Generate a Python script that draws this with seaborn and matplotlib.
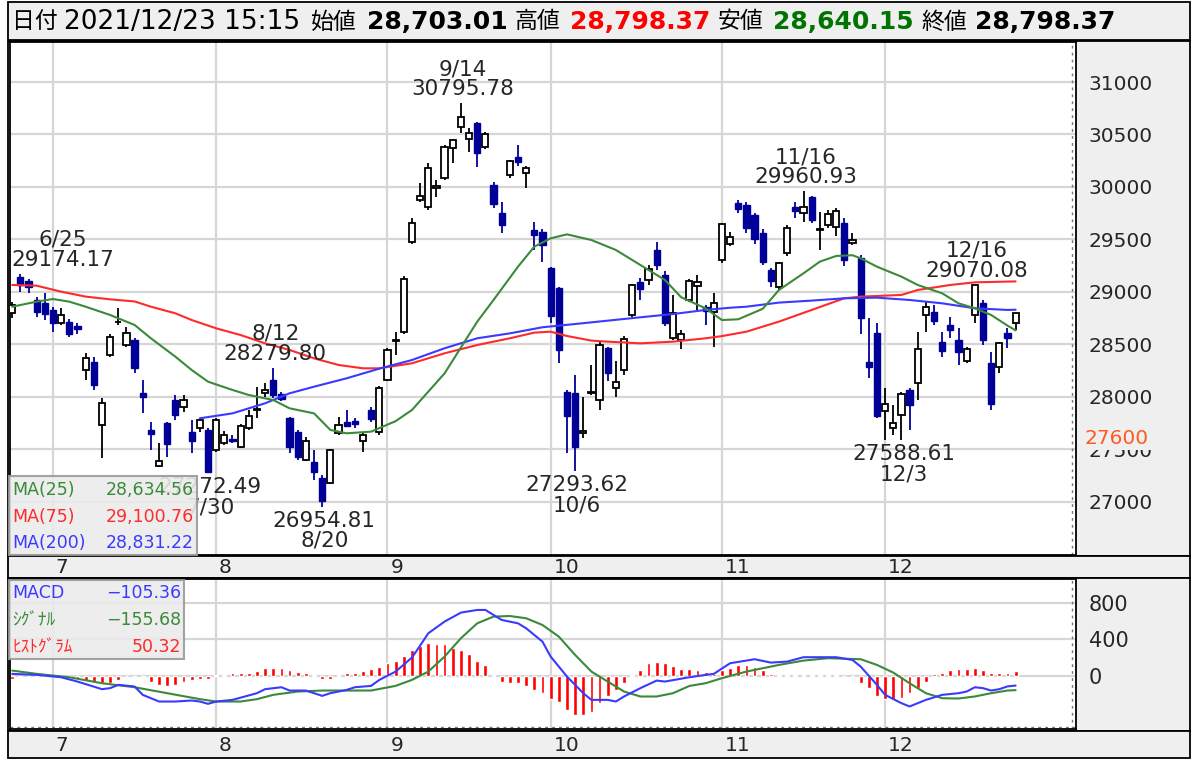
import numpy as np
import matplotlib
matplotlib.use("Agg")
import matplotlib.pyplot as plt
import seaborn as sns
from matplotlib.patches import Rectangle

# trading days shown (6/24 .. 12/23)
dates = ["6/24", "6/25", "6/28", "6/29", "6/30",
         "7/1", "7/2", "7/5", "7/6", "7/7", "7/8", "7/9", "7/12", "7/13", "7/14", "7/15", "7/16",
         "7/19", "7/20", "7/21", "7/26", "7/27", "7/28", "7/29", "7/30",
         "8/2", "8/3", "8/4", "8/5", "8/6", "8/10", "8/11", "8/12", "8/13", "8/16", "8/17", "8/18",
         "8/19", "8/20", "8/23", "8/24", "8/25", "8/26", "8/27", "8/30", "8/31",
         "9/1", "9/2", "9/3", "9/6", "9/7", "9/8", "9/9", "9/10", "9/13", "9/14", "9/15", "9/16",
         "9/17", "9/21", "9/22", "9/24", "9/27", "9/28", "9/29", "9/30",
         "10/1", "10/4", "10/5", "10/6", "10/7", "10/8", "10/11", "10/12", "10/13", "10/14", "10/15",
         "10/18", "10/19", "10/20", "10/21", "10/22", "10/25", "10/26", "10/27", "10/28", "10/29",
         "11/1", "11/2", "11/4", "11/5", "11/8", "11/9", "11/10", "11/11", "11/12", "11/15", "11/16",
         "11/17", "11/18", "11/19", "11/22", "11/24", "11/25", "11/26", "11/29", "11/30",
         "12/1", "12/2", "12/3", "12/6", "12/7", "12/8", "12/9", "12/10", "12/13", "12/14", "12/15",
         "12/16", "12/17", "12/20", "12/21", "12/22", "12/23"]

opens = [28797, 29146, 29108, 28924, 28892, 28829, 28702, 28717, 28676, 28257,
         28336, 27733, 28400, 28710, 28495, 28543, 28040, 27690, 27345, 27749,
         27971, 27908, 27670, 27702, 27686, 27495, 27559, 27597, 27527, 27702,
         27880, 28035, 28162, 28029, 27797, 27670, 27400, 27384, 27225, 27178,
         27654, 27765, 27775, 27584, 27876, 27670, 28162, 28530, 28622, 29480,
         29880, 29813, 29990, 30083, 30368, 30575, 30454, 30607, 30385, 30019,
         29749, 30115, 30283, 30130, 29591, 29575, 29225, 29035, 28051, 28035,
         27660, 28035, 27971, 28464, 28083, 28257, 28781, 29098, 29114, 29400,
         29162, 28559, 28543, 28924, 29060, 28860, 28813, 29305, 29457, 29845,
         29829, 29734, 29559, 29210, 29051, 29368, 29813, 29749, 29908, 29590,
         29638, 29622, 29654, 29464, 29321, 28330, 28607, 27870, 27708, 27829,
         28067, 28130, 28781, 28813, 28527, 28686, 28543, 28346, 28781, 28892,
         28321, 28289, 28606, 28703.01]
highs = [28908, 29174.17, 29125, 28950, 28987, 28860, 28844, 28740, 28700, 28416,
         28380, 27987, 28600, 28844, 28670, 28560, 28162, 27765, 27559, 27760,
         28019, 28019, 27781, 27800, 27700, 27800, 27680, 27640, 27740, 27876,
         28098, 28130, 28279.80, 28050, 27810, 27690, 27620, 27495, 27260, 27500,
         27813, 27876, 27800, 27660, 27900, 28100, 28470, 28622, 29150, 29700,
         30035, 30225, 30067, 30400, 30460, 30795.78, 30559, 30622, 30520, 30050,
         29860, 30260, 30400, 30200, 29670, 29600, 29240, 29050, 28070, 28210,
         28003, 28305, 28530, 28480, 28340, 28580, 29080, 29130, 29260, 29480,
         29200, 28971, 28640, 29120, 29162, 28880, 28990, 29660, 29570, 29880,
         29860, 29750, 29600, 29230, 29290, 29640, 29860, 29960.93, 29910, 29765,
         29780, 29800, 29700, 29560, 29350, 28750, 28700, 28083, 27924, 28050,
         28083, 28622, 28900, 28880, 28622, 28765, 28654, 28480, 29070.08, 28920,
         28432, 28527, 28654, 28798.37]
lows = [28749, 29003, 28987, 28760, 28733, 28622, 28686, 28570, 28600, 28162,
        28070, 27419, 28380, 28686, 28479, 28225, 27845, 27495, 27335, 27430,
        27781, 27860, 27464, 27670, 27272.49, 27480, 27540, 27560, 27510, 27690,
        27797, 28003, 27987, 27960, 27470, 27400, 27390, 27210, 26954.81, 27170,
        27640, 27720, 27700, 27480, 27760, 27640, 28150, 28400, 28600, 29460,
        29860, 29780, 29908, 30070, 30225, 30512, 30337, 30194, 30360, 29800,
        29559, 30083, 30200, 29988, 29400, 29290, 28700, 28320, 27463, 27293.62,
        27606, 28020, 27876, 28150, 28000, 28210, 28760, 28924, 29067, 29210,
        28680, 28540, 28460, 28900, 28830, 28690, 28480, 29280, 29440, 29750,
        29560, 29460, 29260, 29050, 29020, 29340, 29700, 29670, 29660, 29400,
        29610, 29530, 29250, 29450, 28600, 28178, 27800, 27591, 27640, 27588.61,
        27686, 27971, 28622, 28690, 28384, 28560, 28305, 28320, 28700, 28495,
        27876, 28225, 28464, 28640.15]
closes = [28875, 29066, 29048, 28812, 28791, 28707, 28783, 28598, 28643, 28367,
          28118, 27940, 28569, 28718, 28608, 28279, 28003, 27652, 27388, 27548,
          27833, 27970, 27581, 27782, 27283, 27781, 27641, 27584, 27728, 27820,
          27888, 28070, 28015, 27977, 27523, 27424, 27585, 27281, 27013, 27494,
          27732, 27724, 27742, 27641, 27789, 28089, 28451, 28543, 29128, 29660,
          29916, 30181, 30008, 30381, 30447, 30670, 30511, 30323, 30500, 29839,
          29639, 30248, 30240, 30183, 29544, 29452, 28771, 28444, 27822, 27528,
          27678, 28048, 28498, 28230, 28140, 28550, 29068, 29025, 29215, 29255,
          28708, 28804, 28600, 29106, 29098, 28820, 28892, 29647, 29520, 29794,
          29611, 29507, 29285, 29106, 29277, 29609, 29776, 29808, 29688, 29598,
          29745, 29774, 29302, 29499, 28751, 28283, 27821, 27935, 27753, 28029,
          27927, 28455, 28860, 28725, 28437, 28640, 28432, 28459, 29066, 28545,
          27937, 28517, 28562, 28798.37]

# moving averages (trading-day number, value)
ma25_day = [0, 3, 5, 7, 9, 12, 15, 17, 20, 22, 24, 27, 29, 32, 34, 37, 39, 41, 44, 47, 49,
            53, 57, 59, 62, 64, 66, 68, 71, 74, 77, 80, 82, 85, 87, 89, 92, 94, 97, 99, 101,
            103, 104, 106, 109, 111, 114, 116, 118, 120, 122, 123]
ma25_val = [28860, 28908, 28933, 28908, 28860, 28781, 28686, 28559, 28384, 28257, 28146,
            28067, 28019, 27971, 27892, 27844, 27686, 27654, 27670, 27770, 27876, 28225,
            28717, 28924, 29241, 29432, 29511, 29549, 29495, 29400, 29257, 29115, 28950,
            28844, 28733, 28740, 28840, 29020, 29178, 29289, 29343, 29350, 29321, 29241,
            29146, 29067, 28987, 28892, 28845, 28781, 28680, 28634.56]
ma75_day = [0, 3, 6, 9, 12, 15, 17, 20, 22, 25, 28, 31, 34, 37, 40, 43, 45, 49, 53, 57, 61,
            64, 66, 68, 71, 73, 77, 81, 85, 87, 90, 94, 98, 102, 104, 106, 109, 111, 115,
            118, 122, 123]
ma75_val = [29067, 29060, 29003, 28956, 28930, 28910, 28860, 28797, 28733, 28654, 28590,
            28511, 28448, 28368, 28305, 28273, 28273, 28321, 28416, 28495, 28559, 28613,
            28622, 28581, 28537, 28527, 28511, 28527, 28559, 28580, 28622, 28718, 28829,
            28940, 28956, 28962, 28972, 29019, 29067, 29092, 29099, 29100.76]
ma200_day = [23, 27, 31, 34, 37, 41, 45, 49, 53, 57, 61, 65, 69, 73, 77, 81, 85, 88, 90, 94,
             98, 102, 106, 110, 114, 118, 122, 123]
ma200_val = [27797, 27844, 27940, 28035, 28098, 28178, 28270, 28352, 28464, 28559, 28606,
             28664, 28695, 28727, 28759, 28790, 28829, 28850, 28860, 28899, 28918, 28940,
             28946, 28924, 28892, 28845, 28829, 28831.22]

# MACD panel
macd_day = [0, 3, 6, 8, 11, 12, 13, 15, 16, 18, 20, 22, 23, 24, 25, 27, 30, 31, 33, 34, 36,
            38, 39, 41, 42, 44, 45, 47, 49, 50, 51, 53, 55, 57, 58, 60, 62, 63, 65, 66, 68,
            70, 71, 73, 74, 75, 77, 79, 80, 83, 85, 86, 88, 91, 93, 95, 97, 101, 103, 104,
            106, 107, 109, 110, 112, 114, 116, 117, 118, 119, 120, 121, 122, 123]
macd_val = [22, 11, -15, -62, -145, -134, -98, -116, -207, -280, -280, -269, -280, -305,
            -280, -262, -189, -145, -124, -160, -160, -218, -189, -153, -124, -109, -44, 47,
            200, 330, 465, 593, 691, 720, 720, 611, 574, 520, 374, 211, -7, -189, -262, -262,
            -280, -225, -134, -51, -62, -15, 11, 22, 138, 182, 145, 156, 204, 204, 174, 102,
            -98, -207, -298, -334, -262, -207, -189, -171, -124, -134, -160, -145, -115,
            -105.36]
signal_day = [0, 3, 7, 11, 15, 19, 23, 25, 28, 30, 32, 35, 38, 41, 44, 47, 49, 51, 53, 55,
              57, 59, 61, 63, 65, 67, 69, 71, 73, 75, 77, 79, 81, 83, 85, 87, 90, 94, 97, 100,
              104, 106, 108, 110, 112, 114, 116, 118, 120, 122, 123]
signal_val = [58, 22, -15, -80, -124, -189, -254, -280, -280, -254, -207, -171, -160, -160,
              -160, -109, -44, 47, 211, 411, 574, 647, 654, 629, 556, 429, 229, 47, -62, -171,
              -225, -225, -189, -110, -80, -25, 47, 120, 167, 193, 182, 120, 36, -80, -189,
              -244, -247, -225, -189, -160, -155.68]
hist_val = [-35, -10, 0, 5, 5, 0, -15, -25, -36, -51,
            -62, -80, -73, -44, -5, -10, -10, -65, -98, -109,
            -98, -62, -44, -33, -33, 5, 10, 29, 29, 36,
            55, 91, 91, 84, 65, 47, 29, 5, -30, -30,
            10, 30, 36, 58, 76, 102, 138, 164, 218, 284,
            327, 364, 345, 345, 302, 284, 236, 164, 120, 11,
            -62, -80, -80, -109, -153, -182, -254, -280, -371, -425,
            -425, -389, -298, -225, -153, -80, 5, 65, 138, 156,
            138, 109, 73, 75, 65, 47, 22, 65, 91, 120,
            120, 102, 65, 22, 11, 15, 15, 15, 15, 15,
            15, 15, 0, -7, -80, -134, -225, -254, -262, -244,
            -189, -134, -62, 22, 29, 65, 76, 76, 91, 65,
            36, 29, 29, 50.32]

# labelled highs / lows: (date, value, above?)
peaks = [("6/25", "29174.17", True), ("8/12", "28279.80", True), ("9/14", "30795.78", True),
         ("11/16", "29960.93", True), ("12/16", "29070.08", True),
         ("7/30", "27272.49", False), ("8/20", "26954.81", False), ("10/6", "27293.62", False),
         ("12/3", "27588.61", False)]

sns.set_style("white")
plt.rcParams['font.family'] = ['DejaVu Sans', 'Noto Sans CJK JP']

W, H = 1200, 760
fig = plt.figure(figsize=(12, 7.6), dpi=100)
GRAY = '#efefef'


def box(x0, y0, x1, y1, fc=GRAY, ec='black', lw=1.3, z=-1, alpha=1.0):
    fig.add_artist(Rectangle((x0 / W, 1 - y1 / H), (x1 - x0) / W, (y1 - y0) / H,
                             transform=fig.transFigure, fc=fc, ec=ec, lw=lw,
                             zorder=z, alpha=alpha))


box(8, 2, 1190, 40)
box(8, 41, 1190, 556)
box(8, 556, 1190, 578)
box(8, 578, 1190, 731)
box(8, 731, 1190, 758)

n = len(dates)
xs = np.arange(n)
o = np.array(opens)
c = np.array(closes)
hi = np.array(highs)
lo = np.array(lows)
up = c >= o

months = ["7", "8", "9", "10", "11", "12"]
month_pos = [next(i for i, d in enumerate(dates) if d.split("/")[0] == m) for m in months]

ax = fig.add_axes([10 / W, 1 - 555 / H, 1066 / W, 513 / H])
ax2 = fig.add_axes([10 / W, 1 - 729 / H, 1066 / W, 150 / H])

# candles
ax.vlines(xs[up], lo[up], hi[up], color='black', lw=1.3, zorder=2)
ax.vlines(xs[~up], lo[~up], hi[~up], color='#000099', lw=1.3, zorder=2)
body = np.maximum(np.abs(c - o), 8)
ax.bar(xs[up], body[up], bottom=np.minimum(o, c)[up], width=0.76, color='white',
       edgecolor='black', linewidth=1.3, zorder=3)
ax.bar(xs[~up], body[~up], bottom=np.minimum(o, c)[~up], width=0.76, color='#000099',
       edgecolor='#000099', linewidth=1.0, zorder=3)

sns.lineplot(x=ma75_day, y=ma75_val, ax=ax, color='#ff2a2a', lw=1.5, zorder=4)
sns.lineplot(x=ma200_day, y=ma200_val, ax=ax, color='#3a3aff', lw=1.5, zorder=4)
sns.lineplot(x=ma25_day, y=ma25_val, ax=ax, color='#3a8a3a', lw=1.5, zorder=4)

for d, v, above in peaks:
    i = dates.index(d)
    y = hi[i] if above else lo[i]
    txt = f"{d}\n{v}" if above else f"{v}\n{d}"
    dx = 42 if i == 1 else 2
    ax.annotate(txt, xy=(i, y), xytext=(dx, 24 if above else -24), textcoords='offset pixels',
                ha='center', va='center', fontsize=15.5, linespacing=1.0, zorder=5)

ax.set_xlim(-0.27, 130.4)
ax.set_ylim(26495, 31381)
ax.set_yticks(range(27000, 31001, 500))
ax.set_xticks(month_pos)
ax.set_xticklabels([])
ax.yaxis.tick_right()
ax.tick_params(axis='y', length=0, pad=9, labelsize=14.5)
ax.tick_params(axis='x', length=0)
ax.grid(True, color='#d6d6d6', lw=1.6)
ax.set_axisbelow(True)
ax.axvline(129.9, color='#777777', ls=(0, (2, 3)), lw=1)
ax.set_xlabel('')
ax.set_ylabel('')
ax.annotate('27600', xy=(1, 27600), xycoords=('axes fraction', 'data'), xytext=(9, 0),
            textcoords='offset pixels', ha='left', va='center', color='#ff5a1f',
            fontsize=14.5, annotation_clip=False,
            bbox=dict(fc=GRAY, ec='none', pad=1.0))

# MACD
ax2.bar(xs, hist_val, width=0.46, color='#ff0000', zorder=2)
sns.lineplot(x=signal_day, y=signal_val, ax=ax2, color='#3a8a3a', lw=1.5, zorder=3)
sns.lineplot(x=macd_day, y=macd_val, ax=ax2, color='#3a3aff', lw=1.5, zorder=3)
ax2.set_xlim(-0.27, 130.4)
ax2.set_ylim(-580, 1058)
ax2.set_yticks([0, 400, 800])
ax2.set_xticks(month_pos)
ax2.set_xticklabels([])
ax2.yaxis.tick_right()
ax2.tick_params(axis='y', length=0, pad=9, labelsize=15)
ax2.tick_params(axis='x', length=0)
ax2.grid(True, color='#d6d6d6', lw=1.6)
ax2.set_axisbelow(True)
ax2.axvline(129.9, color='#777777', ls=(0, (2, 3)), lw=1)
ax2.axhline(-562, color='#777777', ls=(0, (2, 3)), lw=1)
ax2.set_xlabel('')
ax2.set_ylabel('')

for a in (ax, ax2):
    for s in a.spines.values():
        s.set_color('black')
        s.set_linewidth(1.3)

for m, p in zip(months, month_pos):
    ax.text(p + 0.35, -0.0234, m, transform=ax.get_xaxis_transform(), ha='left',
            va='center', fontsize=14.5, clip_on=False)
    ax2.text(p + 0.35, -0.107, m, transform=ax2.get_xaxis_transform(), ha='left',
             va='center', fontsize=14.5, clip_on=False)

# header
head = [("日付", 12, 'normal', 16.5, 'black'),
        ("2021/12/23 15:15", 64, 'normal', 19, 'black'),
        ("始値", 311, 'normal', 16.5, 'black'),
        ("28,703.01", 367, 'bold', 18, 'black'),
        ("高値", 515, 'normal', 16.5, 'black'),
        ("28,798.37", 570, 'bold', 18, '#ff0000'),
        ("安値", 718, 'normal', 16.5, 'black'),
        ("28,640.15", 773, 'bold', 18, '#007400'),
        ("終値", 921, 'normal', 16.5, 'black'),
        ("28,798.37", 975, 'bold', 18, 'black')]
for t, x, w, s, col in head:
    fig.text(x / W, 1 - 22 / H, t, ha='left', va='center', fontsize=s, fontweight=w, color=col)

# legends
box(9, 476, 197, 555, fc='#ebebeb', ec='#999999', lw=1.5, z=5, alpha=0.9)
ma_leg = [("MA(25)", "28,634.56", '#3a8a3a'), ("MA(75)", "29,100.76", '#ff2a2a'),
          ("MA(200)", "28,831.22", '#3a3aff')]
for k, (lab, val, col) in enumerate(ma_leg):
    yy = 1 - (490 + 26.5 * k) / H
    fig.text(12 / W, yy, lab, ha='left', va='center', fontsize=12.5, color=col, zorder=6)
    fig.text(194 / W, yy, val, ha='right', va='center', fontsize=12.5, color=col, zorder=6)

box(9, 580, 184, 659, fc='#ebebeb', ec='#999999', lw=1.5, z=5, alpha=0.9)
macd_leg = [("MACD", "\u2212105.36", '#3a3aff'), ("ｼｸﾞﾅﾙ", "\u2212155.68", '#3a8a3a'),
            ("ﾋｽﾄｸﾞﾗﾑ", "50.32", '#ff2a2a')]
for k, (lab, val, col) in enumerate(macd_leg):
    yy = 1 - (593 + 27 * k) / H
    fig.text(12 / W, yy, lab, ha='left', va='center', fontsize=12.5, color=col, zorder=6)
    fig.text(181 / W, yy, val, ha='right', va='center', fontsize=12.5, color=col, zorder=6)

fig.savefig("out.png", dpi=100)
